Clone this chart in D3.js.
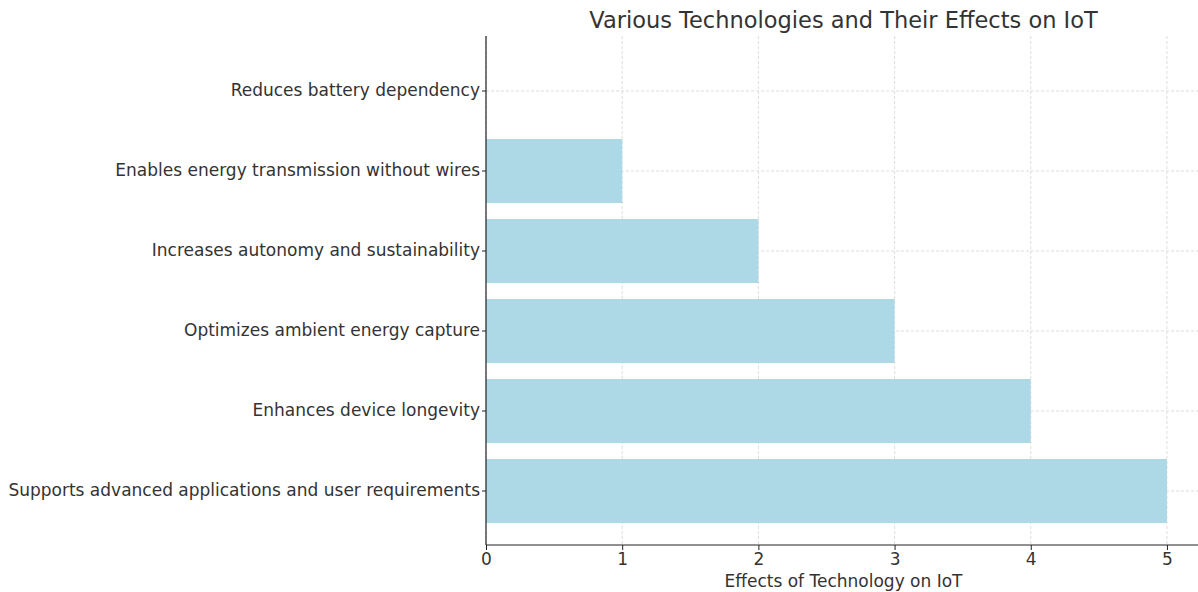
<!DOCTYPE html>
<html>
<head>
<meta charset="utf-8">
<script src="https://cdn.jsdelivr.net/npm/d3@7"></script>
<style>
  body { margin: 0; background: #fff; }
  svg { display: block; font-family: "DejaVu Sans", sans-serif; }
</style>
</head>
<body>
<svg width="1198" height="592"></svg>
<script>
  (function(){
    'use strict';

    var WIDTH = 1198;
    var HEIGHT = 592;

    // categories listed top to bottom
    var categories = [
      'Reduces battery dependency',
      'Enables energy transmission without wires',
      'Increases autonomy and sustainability',
      'Optimizes ambient energy capture',
      'Enhances device longevity',
      'Supports advanced applications and user requirements'
    ];
    var effects = [0, 1, 2, 3, 4, 5];
    var xTicks = [0, 1, 2, 3, 4, 5];

    var title = 'Various Technologies and Their Effects on IoT';
    var xLabel = 'Effects of Technology on IoT';

    var padding = { top: 36, bottom: 47, left: 486, right: -3 };

    var svg = d3.select('svg');

    var xScale = d3.scaleLinear()
      .domain([0, 5.25])
      .range([padding.left, WIDTH - padding.right]);

    var yScale = d3.scaleBand()
      .domain(categories)
      .range([51, 531])
      .paddingInner(0.2)
      .paddingOuter(0.1);

    var data = categories.map(function(c, i) {
      return { name: c, value: effects[i] };
    });

    // grid
    var grid = svg.append('g').attr('class', 'grid');
    grid.selectAll('line.vx')
      .data(xTicks)
      .enter()
      .append('line')
      .attr('x1', function(d) { return xScale(d); })
      .attr('x2', function(d) { return xScale(d); })
      .attr('y1', padding.top)
      .attr('y2', HEIGHT - padding.bottom)
      .attr('stroke', '#d4d4d4')
      .attr('stroke-width', 0.8)
      .attr('stroke-dasharray', '3,2');
    grid.selectAll('line.hy')
      .data(categories)
      .enter()
      .append('line')
      .attr('x1', padding.left)
      .attr('x2', WIDTH)
      .attr('y1', function(d) { return yScale(d) + yScale.bandwidth() / 2; })
      .attr('y2', function(d) { return yScale(d) + yScale.bandwidth() / 2; })
      .attr('stroke', '#d4d4d4')
      .attr('stroke-width', 0.8)
      .attr('stroke-dasharray', '3,2');

    // bars
    svg.append('g')
      .selectAll('rect')
      .data(data)
      .enter()
      .append('rect')
      .attr('x', xScale(0))
      .attr('y', function(d) { return yScale(d.name); })
      .attr('width', function(d) { return xScale(d.value) - xScale(0); })
      .attr('height', yScale.bandwidth())
      .attr('fill', '#add8e6');

    // axes
    svg.append('g')
      .attr('class', 'axis')
      .attr('transform', 'translate(0,' + (HEIGHT - padding.bottom) + ')')
      .call(d3.axisBottom(xScale).tickValues(xTicks).tickFormat(d3.format('d'))
        .tickSizeInner(5).tickSizeOuter(0).tickPadding(3));

    svg.append('g')
      .attr('class', 'axis')
      .attr('transform', 'translate(' + padding.left + ',0)')
      .call(d3.axisLeft(yScale).tickSizeInner(4).tickSizeOuter(0).tickPadding(2));

    svg.selectAll('.axis path.domain').remove();
    svg.selectAll('.axis line').attr('stroke', '#222').attr('stroke-width', 1);
    svg.selectAll('.axis text')
      .attr('fill', '#333')
      .style('font-size', '17px')
      .style('font-family', '"DejaVu Sans", sans-serif');

    // spines: left and bottom only
    svg.append('line')
      .attr('x1', padding.left).attr('x2', padding.left)
      .attr('y1', padding.top).attr('y2', HEIGHT - padding.bottom)
      .attr('stroke', '#222').attr('stroke-width', 1.2);
    svg.append('line')
      .attr('x1', padding.left).attr('x2', WIDTH)
      .attr('y1', HEIGHT - padding.bottom).attr('y2', HEIGHT - padding.bottom)
      .attr('stroke', '#222').attr('stroke-width', 1.2);

    // title and label
    svg.append('text')
      .attr('x', (padding.left + WIDTH + 3) / 2)
      .attr('y', 28)
      .attr('text-anchor', 'middle')
      .attr('fill', '#333')
      .style('font-size', '22.5px')
      .text(title);

    svg.append('text')
      .attr('x', (padding.left + WIDTH + 3) / 2)
      .attr('y', 587)
      .attr('text-anchor', 'middle')
      .attr('fill', '#333')
      .style('font-size', '17px')
      .text(xLabel);
  })();
</script>
</body>
</html>
